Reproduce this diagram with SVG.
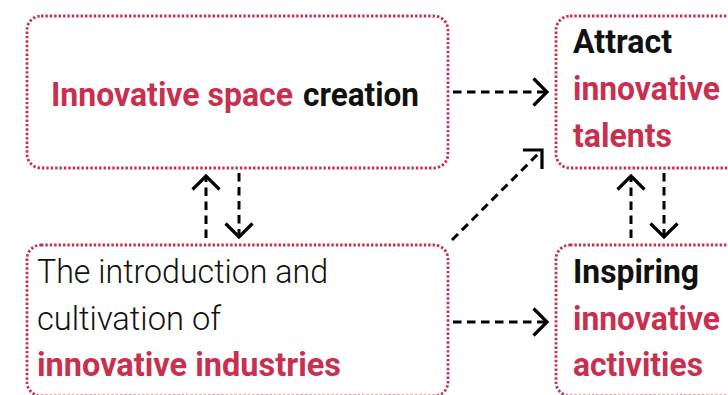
<svg xmlns="http://www.w3.org/2000/svg" width="728" height="395" viewBox="0 0 728 395">
<style>
.box{fill:none;stroke:#c8304f;stroke-width:2.8;stroke-dasharray:2.4 2;}
.t{font-family:Roboto,"Liberation Sans",sans-serif;font-size:34px;}
.b{font-weight:bold;}
.l{font-weight:300;}
.r{fill:#c8304f;}
.k{fill:#111;}
.c{fill:none;stroke:#000;stroke-width:3;stroke-dasharray:8.5 5.5;}
</style>
<defs>
<marker id="ah" markerUnits="userSpaceOnUse" markerWidth="40" markerHeight="40" viewBox="-20 -20 40 40" refX="0" refY="0" orient="auto" overflow="visible">
<path d="M-13.5,-13.5 L0,0 L-13.5,13.5" fill="none" stroke="#000" stroke-width="3.2"/>
</marker>
</defs>
<rect width="728" height="395" fill="#fff"/>
<g id="connectors">
<line class="c" x1="453" y1="92" x2="547" y2="92" marker-end="url(#ah)"/>
<line class="c" x1="453" y1="322" x2="547" y2="322" marker-end="url(#ah)"/>
<line class="c" x1="452" y1="240" x2="542" y2="150" marker-end="url(#ah)"/>
<line class="c" x1="206" y1="238" x2="206" y2="176" marker-end="url(#ah)"/>
<line class="c" x1="239" y1="173" x2="239" y2="237" marker-end="url(#ah)"/>
<line class="c" x1="631" y1="238" x2="631" y2="176" marker-end="url(#ah)"/>
<line class="c" x1="664" y1="173" x2="664" y2="237" marker-end="url(#ah)"/>
</g>
<g id="node-space">
<rect class="box" x="27" y="16" width="421" height="152" rx="14"/>
<text class="t b r" x="51" y="106" textLength="242" lengthAdjust="spacingAndGlyphs">Innovative space</text>
<text class="t b k" x="303" y="106" textLength="116" lengthAdjust="spacingAndGlyphs">creation</text>
</g>
<g id="node-talents">
<rect class="box" x="556" y="16" width="421" height="152" rx="14"/>
<text class="t b k" x="573" y="53" textLength="99" lengthAdjust="spacingAndGlyphs">Attract</text>
<text class="t b r" x="573" y="100" textLength="147" lengthAdjust="spacingAndGlyphs">innovative</text>
<text class="t b r" x="573" y="147" textLength="99" lengthAdjust="spacingAndGlyphs">talents</text>
</g>
<g id="node-industries">
<rect class="box" x="27" y="245" width="421" height="151" rx="14"/>
<text class="t l k" x="37" y="283" textLength="291" lengthAdjust="spacingAndGlyphs">The introduction and</text>
<text class="t l k" x="37" y="330" textLength="184" lengthAdjust="spacingAndGlyphs">cultivation of</text>
<text class="t b r" x="37" y="376" textLength="304" lengthAdjust="spacingAndGlyphs">innovative industries</text>
</g>
<g id="node-activities">
<rect class="box" x="556" y="245" width="421" height="151" rx="14"/>
<text class="t b k" x="573" y="283" textLength="126" lengthAdjust="spacingAndGlyphs">Inspiring</text>
<text class="t b r" x="573" y="330" textLength="147" lengthAdjust="spacingAndGlyphs">innovative</text>
<text class="t b r" x="573" y="376" textLength="130" lengthAdjust="spacingAndGlyphs">activities</text>
</g>
</svg>
